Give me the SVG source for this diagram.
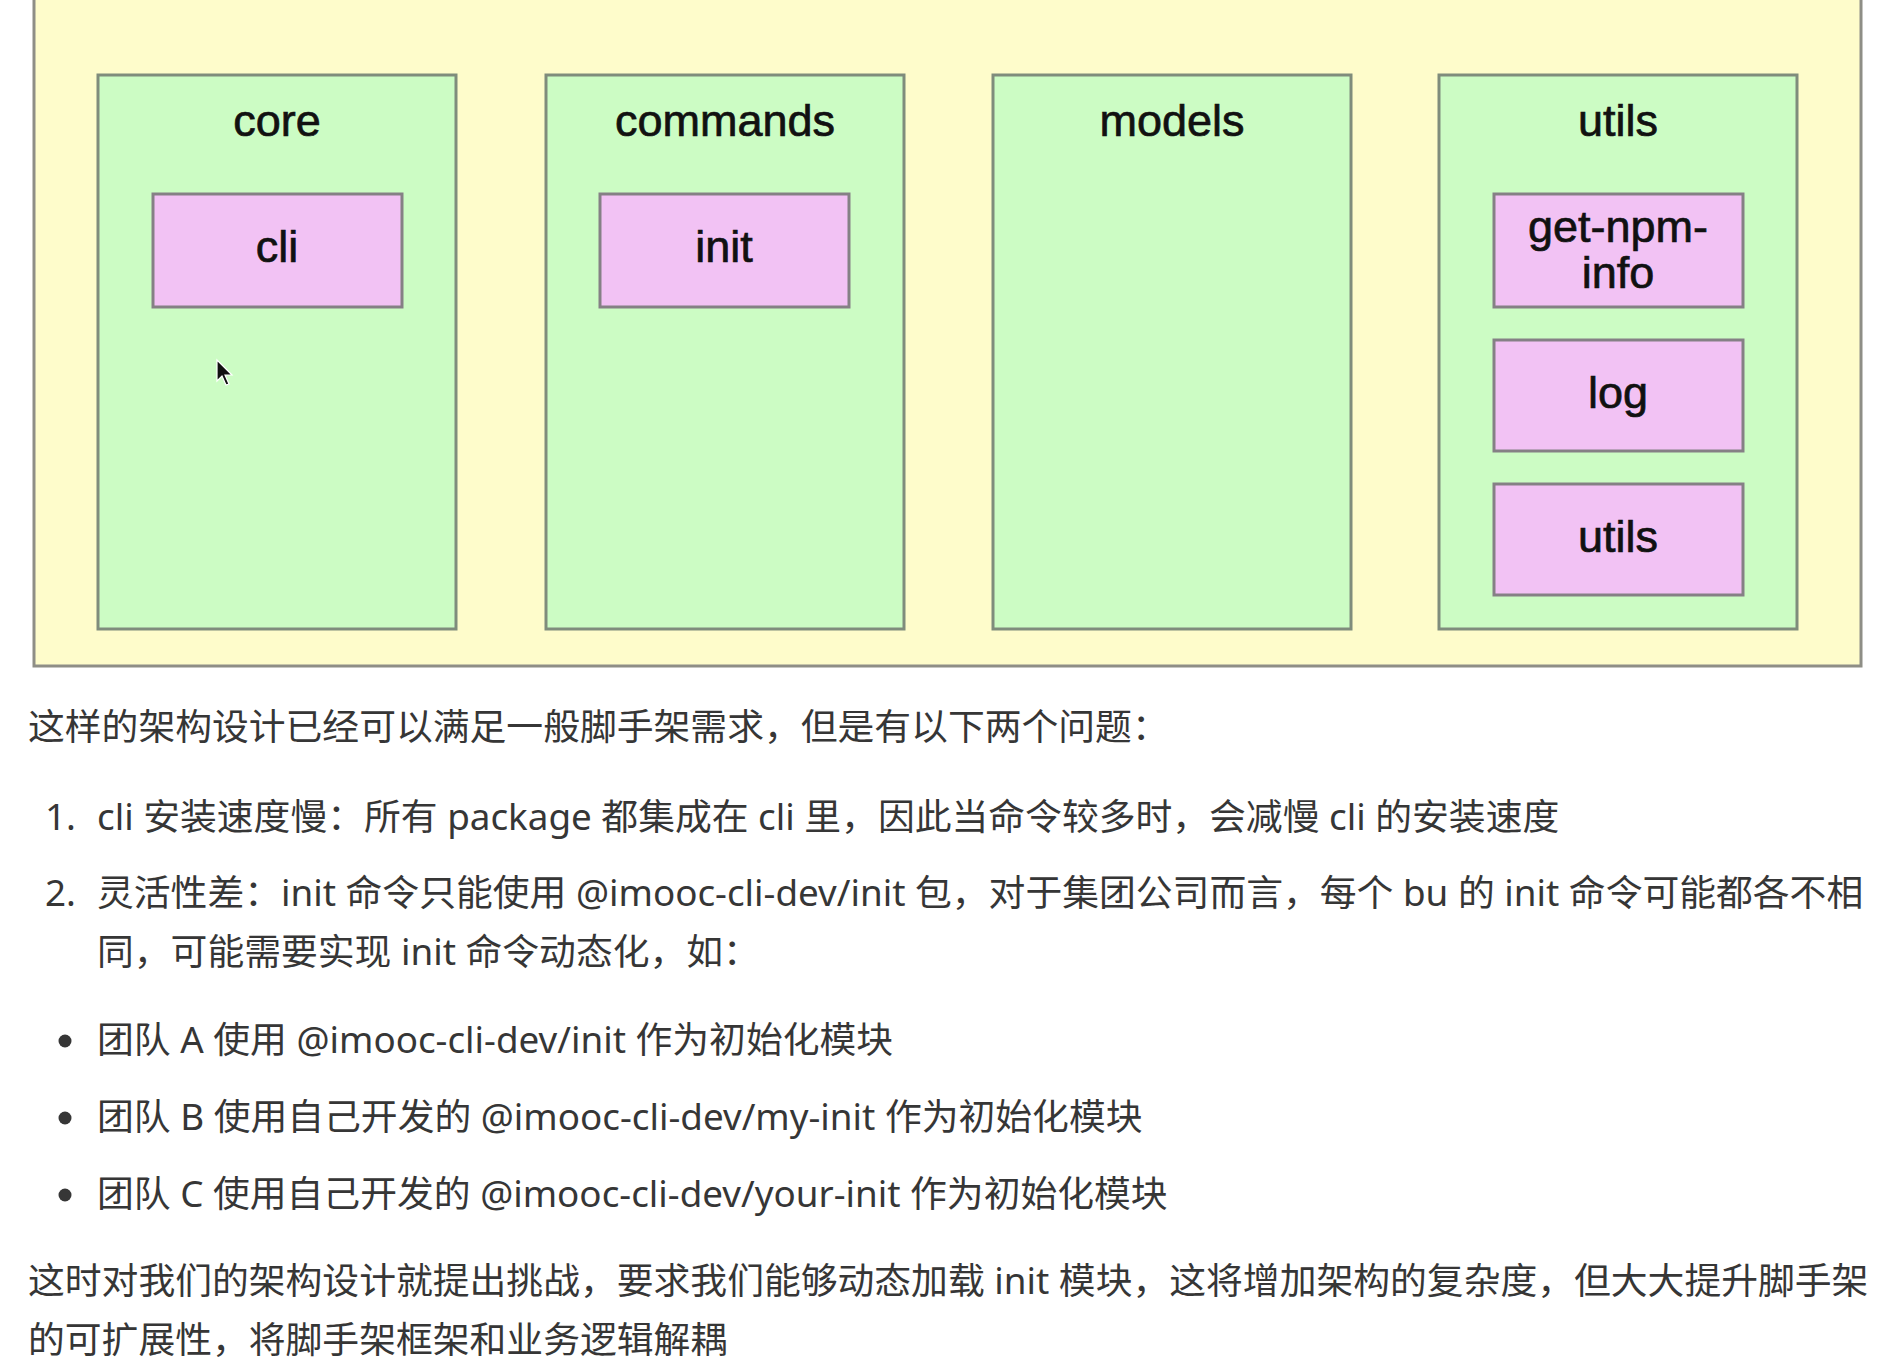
<svg xmlns="http://www.w3.org/2000/svg" width="1882" height="1366" viewBox="0 0 1882 1366">
<defs>
<style>
.outer{fill:#fefccb;stroke:#8e8e86;stroke-width:3}
.grp{fill:#ccfcc4;stroke:#7f8c7c;stroke-width:3}
.mod{fill:#f2c2f4;stroke:#858085;stroke-width:3}
.lbl{font-family:"Liberation Sans",Arial,sans-serif;font-size:45px;fill:#111;stroke:#111;stroke-width:0.7;text-anchor:middle}
.body{font-family:"Noto Sans","Noto Sans CJK SC",sans-serif;font-size:36.8px;fill:#363636}
</style>
</defs>
<rect width="1882" height="1366" fill="#ffffff"/>
<g id="container">
<rect class="outer" x="34" y="-3" width="1827" height="669"/>
</g>
<g id="core">
<rect class="grp" x="98" y="75" width="358" height="554"/>
<text class="lbl" x="277" y="136">core</text>
</g>
<g id="cli">
<rect class="mod" x="153" y="194" width="249" height="113"/>
<text class="lbl" x="277" y="262">cli</text>
</g>
<g id="commands">
<rect class="grp" x="546" y="75" width="358" height="554"/>
<text class="lbl" x="725" y="136">commands</text>
</g>
<g id="init">
<rect class="mod" x="600" y="194" width="249" height="113"/>
<text class="lbl" x="724" y="262">init</text>
</g>
<g id="models">
<rect class="grp" x="993" y="75" width="358" height="554"/>
<text class="lbl" x="1172" y="136">models</text>
</g>
<g id="utils">
<rect class="grp" x="1439" y="75" width="358" height="554"/>
<text class="lbl" x="1618" y="136">utils</text>
</g>
<g id="get-npm-info">
<rect class="mod" x="1494" y="194" width="249" height="113"/>
<text class="lbl" x="1618" y="242">get-npm-</text>
<text class="lbl" x="1618" y="288">info</text>
</g>
<g id="log">
<rect class="mod" x="1494" y="340" width="249" height="111"/>
<text class="lbl" x="1618" y="408">log</text>
</g>
<g id="utils-mod">
<rect class="mod" x="1494" y="484" width="249" height="111"/>
<text class="lbl" x="1618" y="552">utils</text>
</g>
<g id="connectors"></g>
<g id="cursor">
<path d="M217 360 L217 381 L222 376 L226 385 L229 384 L225 375 L232 375 Z" fill="#111" stroke="#fff" stroke-width="1.2"/>
</g>
<g id="text">
<text class="body" x="28" y="740">这样的架构设计已经可以满足一般脚手架需求，但是有以下两个问题：</text>
<text class="body" x="45" y="830">1.</text>
<text class="body" x="97" y="830">cli 安装速度慢：所有 package 都集成在 cli 里，因此当命令较多时，会减慢 cli 的安装速度</text>
<text class="body" x="45" y="906">2.</text>
<text class="body" x="97" y="906">灵活性差：init 命令只能使用 @imooc-cli-dev/init 包，对于集团公司而言，每个 bu 的 init 命令可能都各不相</text>
<text class="body" x="97" y="965">同，可能需要实现 init 命令动态化，如：</text>
<circle cx="65" cy="1041" r="6.5" fill="#363636"/>
<text class="body" x="97" y="1053">团队 A 使用 @imooc-cli-dev/init 作为初始化模块</text>
<circle cx="65" cy="1118" r="6.5" fill="#363636"/>
<text class="body" x="97" y="1130">团队 B 使用自己开发的 @imooc-cli-dev/my-init 作为初始化模块</text>
<circle cx="65" cy="1195" r="6.5" fill="#363636"/>
<text class="body" x="97" y="1207">团队 C 使用自己开发的 @imooc-cli-dev/your-init 作为初始化模块</text>
<text class="body" x="28" y="1294">这时对我们的架构设计就提出挑战，要求我们能够动态加载 init 模块，这将增加架构的复杂度，但大大提升脚手架</text>
<text class="body" x="28" y="1353">的可扩展性，将脚手架框架和业务逻辑解耦</text>
</g>
</svg>
